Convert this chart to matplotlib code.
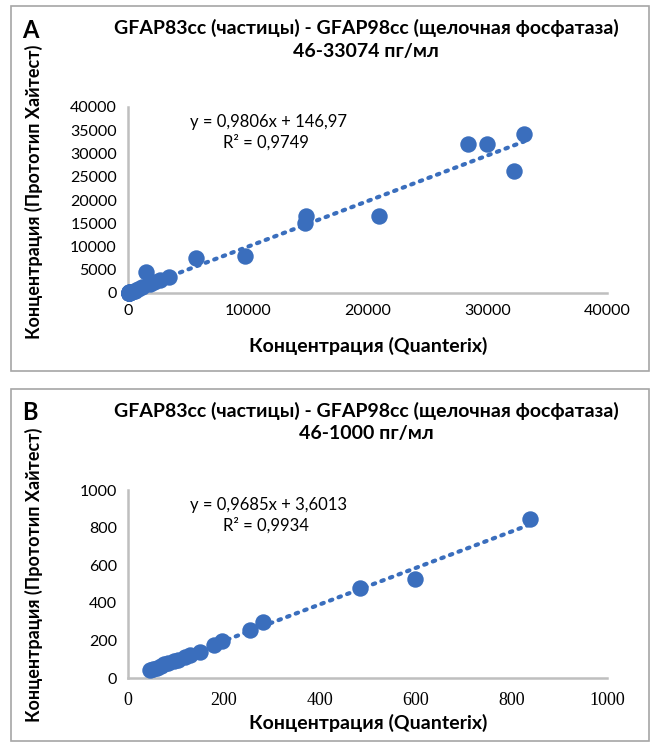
import numpy as np
import matplotlib
matplotlib.use("Agg")
import matplotlib.pyplot as plt
from matplotlib.patches import Rectangle

plt.rcParams['font.family'] = ['Lato', 'Open Sans', 'DejaVu Sans']

# panel B range (46-1000 pg/ml)
x_b = [46, 52, 60, 68, 75, 84, 95, 104, 118, 129, 150, 180, 196, 255, 282, 485, 600, 840]
y_b = [45, 50, 55, 65, 75, 80, 90, 96, 110, 122, 138, 176, 197, 255, 300, 478, 525, 845]
slope_b, icpt_b = 0.9685, 3.6013

# panel A: full range (46-33074 pg/ml), low points are the same as panel B
x_a_hi = [1200, 1500, 1800, 2200, 2700, 3400, 5700, 9800, 14800, 14900, 21000,
          28400, 30000, 32200, 33074]
y_a_hi = [1300, 4500, 1900, 2300, 2800, 3500, 7500, 8000, 15000, 16500, 16500,
          32000, 32000, 26300, 34200]
x_a = x_b + x_a_hi
y_a = y_b + y_a_hi
slope_a, icpt_a = 0.9806, 146.97

title_1 = "GFAP83cc (частицы) - GFAP98cc (щелочная фосфатаза)"
title_a = "46-33074 пг/мл"
title_b = "46-1000 пг/мл"
xlab = "Концентрация (Quanterix)"
ylab = "Концентрация (Прототип Хайтест)"
eq_a = ["y = 0,9806x + 146,97", "R² = 0,9749"]
eq_b = ["y = 0,9685x + 3,6013", "R² = 0,9934"]

blue = '#3A6EBD'
grey = '#BFBFBF'
W, H = 653, 744

fig = plt.figure(figsize=(W / 100, H / 100), dpi=100)


def fx(px):
    return px / W


def fy(py):
    return 1 - py / H


def panel(ax, xs, ys, k, b, xmax, ymax, ticks_x, ticks_y, serif_x):
    ax.scatter(xs, ys, s=140, color=blue, zorder=3, clip_on=False, linewidths=0)
    xl = np.array([min(xs), max(xs)])
    ax.plot(xl, k * xl + b, color=blue, lw=3, ls=(0, (0.6, 1.6)),
            dash_capstyle='round', zorder=2, clip_on=False)
    ax.set_xlim(0, xmax)
    ax.set_ylim(0, ymax)
    ax.set_xticks(ticks_x)
    ax.set_yticks(ticks_y)
    for s in ['top', 'right']:
        ax.spines[s].set_visible(False)
    for s in ['left', 'bottom']:
        ax.spines[s].set_color(grey)
        ax.spines[s].set_linewidth(1.8)
    ax.tick_params(length=0, labelsize=11.5, pad=8, colors='black')
    if serif_x:
        ax.tick_params(axis='x', pad=10)
        for t in ax.get_xticklabels():
            t.set_fontfamily('Liberation Serif')
            t.set_fontsize(13)


ax_a = fig.add_axes([fx(128), fy(293), fx(607 - 128), (293 - 107) / H])
panel(ax_a, x_a, y_a, slope_a, icpt_a, 40000, 40000,
      range(0, 40001, 10000), range(0, 40001, 5000), False)

ax_b = fig.add_axes([fx(128), fy(678), fx(607 - 128), (678 - 490) / H])
panel(ax_b, x_b, y_b, slope_b, icpt_b, 1000, 1000,
      range(0, 1001, 200), range(0, 1001, 200), True)

# boxes around panels
for top, bot in [(6, 371), (389, 741)]:
    fig.patches.append(Rectangle((fx(11), fy(bot)), fx(649 - 11), (bot - top) / H,
                                 transform=fig.transFigure, fill=False,
                                 ec='#A6A6A6', lw=1.2))

for off, letter, sub, eq in [(0, 'A', title_a, eq_a), (383, 'B', title_b, eq_b)]:
    fig.text(fx(30), fy(30 + off), letter, fontsize=17, fontweight='bold',
             ha='center', va='center')
    fig.text(fx(366), fy(28 + off), title_1, fontsize=14, fontweight='bold',
             ha='center', va='center')
    fig.text(fx(366), fy(51 + off), sub, fontsize=14, fontweight='bold',
             ha='center', va='center')
    fig.text(fx(268), fy(122 + off), eq[0], fontsize=12, ha='center', va='center')
    fig.text(fx(266), fy(142 + off), eq[1], fontsize=12, ha='center', va='center')
    fig.text(fx(368), fy(346 + off - (6 if off else 0)), xlab, fontsize=14,
             fontweight='bold', ha='center', va='center')
    fig.text(fx(34), fy(192 + off), ylab, fontsize=13, fontweight='bold',
             ha='center', va='center', rotation=90)

fig.savefig('out.png', dpi=100)
